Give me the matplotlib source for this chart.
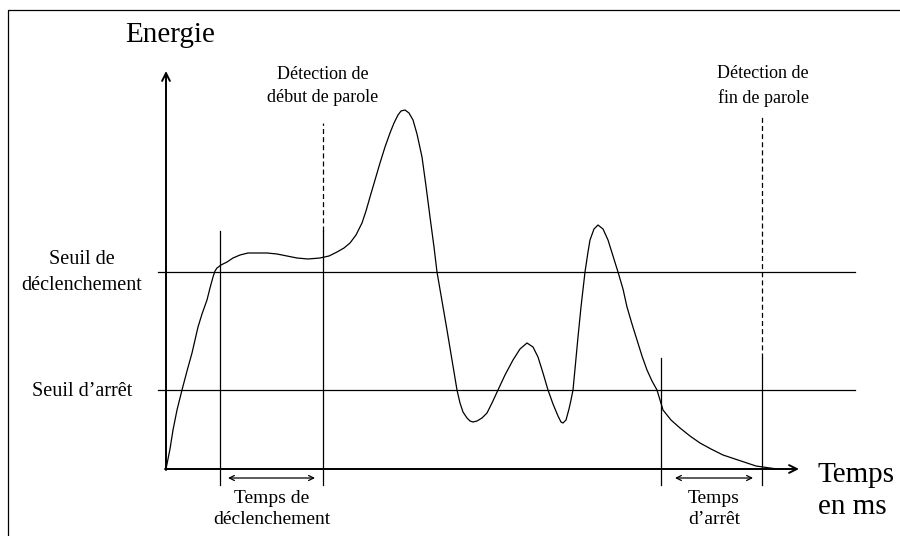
import matplotlib
matplotlib.use("Agg")
import matplotlib.pyplot as plt

plt.rcParams['font.family'] = ['Liberation Serif', 'DejaVu Serif']

# energy curve (t = time, e = energy, arbitrary units)
curve_t = [0, 4, 7, 11, 16, 21, 26, 32, 36, 41, 44, 47, 49, 51, 55, 61, 67, 74, 82, 91,
           101, 111, 121, 131, 142, 154, 163, 171, 178, 184, 190, 196, 200, 204, 209,
           214, 219, 224, 228, 232, 235, 239, 243, 247, 251, 256, 260, 264, 268, 271,
           276, 281, 286, 291, 294, 297, 301, 304, 307, 311, 316, 321, 326, 332, 339,
           347, 354, 361, 367, 372, 377, 382, 387, 392, 395, 397, 400, 403, 405, 407,
           409, 412, 415, 419, 422, 424, 428, 432, 437, 442, 447, 452, 457, 461, 466,
           471, 476, 481, 486, 491, 494, 497, 505, 514, 524, 534, 545, 557, 569, 581,
           590, 597, 604, 611]
curve_e = [0, 20, 39, 59, 79, 98, 116, 142, 155, 169, 181, 192, 198, 201, 204, 207, 211, 214, 216, 216,
           216, 215, 213, 211, 210, 211, 213, 217, 221, 226, 234, 246, 258, 272, 289,
           306, 322, 336, 346, 354, 358, 359, 356, 349, 335, 312, 283, 252, 222, 197,
           168, 139, 109, 79, 66, 57, 51, 48, 47, 48, 51, 56, 66, 79, 94,
           109, 120, 126, 122, 112, 96, 79, 65, 53, 47, 46, 49, 60, 69, 79,
           100, 132, 162, 197, 217, 229, 240, 244, 240, 229, 213, 197, 180, 162, 145,
           129, 113, 99, 88, 79, 69, 59, 49, 41, 33, 26, 20, 14, 10, 6,
           3, 2, 1, 0]

seuil_declenchement = 197
seuil_arret = 79

# vertical markers: (position, top of solid part, top of dashed part or None)
markers_t = [54, 157, 495, 596]
markers_solid_top = [238, 238, 111, 111]
markers_dash_top = [None, 346, None, 354]

# double arrows for the durations
durees = [(62, 149, "Temps de\ndéclenchement"), (509, 587, "Temps\nd\u2019arrêt")]

fig = plt.figure(figsize=(9, 5.36), dpi=100)
ax = fig.add_axes([0, 0, 1, 1])
ax.set_xlim(-166, 734)
ax.set_ylim(-67, 469)
ax.axis('off')

lw = 0.9
# frame (top + left edges)
ax.plot([-158, -158, 734], [-67, 459, 459], color='black', lw=lw)

# axes with arrows
ax.annotate('', xy=(0, 398), xytext=(0, -1),
            arrowprops=dict(arrowstyle='->', lw=1.4, color='black', mutation_scale=14, shrinkA=0, shrinkB=0))
ax.annotate('', xy=(633, 0), xytext=(-1, 0),
            arrowprops=dict(arrowstyle='->', lw=1.4, color='black', mutation_scale=14, shrinkA=0, shrinkB=0))

# thresholds
ax.plot([-8, 689], [seuil_declenchement, seuil_declenchement], color='black', lw=lw)
ax.plot([-8, 689], [seuil_arret, seuil_arret], color='black', lw=lw)

# vertical markers
for t, top, dtop in zip(markers_t, markers_solid_top, markers_dash_top):
    ax.plot([t, t], [-16, top], color='black', lw=lw)
    if dtop is not None:
        ax.plot([t, t], [top, dtop], color='black', lw=lw, linestyle=(0, (4, 2.5)))

# energy curve
ax.plot(curve_t, curve_e, color='black', lw=lw)

# duration arrows and labels
for a, b, lab in durees:
    ax.annotate('', xy=(b, -9), xytext=(a, -9),
                arrowprops=dict(arrowstyle='<->', lw=lw, color='black', mutation_scale=9, shrinkA=0, shrinkB=0))
    ax.text((a + b) / 2, -40, lab, ha='center', va='center', fontsize=14, linespacing=1.35)

# labels
ax.text(4, 434, "Energie", ha='center', va='center', fontsize=21)
ax.text(652, -22, "Temps\nen ms", ha='left', va='center', fontsize=21, linespacing=1.3)
ax.text(-84, 197, "Seuil de\ndéclenchement", ha='center', va='center', fontsize=14.5, linespacing=1.5)
ax.text(-84, 77, "Seuil d\u2019arrêt", ha='center', va='center', fontsize=14.5)
ax.text(157, 383, "Détection de\ndébut de parole", ha='center', va='center', fontsize=13, linespacing=1.45)
ax.text(597, 383, "Détection de\nfin de parole", ha='center', va='center', fontsize=13, linespacing=1.45)

fig.savefig("out.png", dpi=100)
